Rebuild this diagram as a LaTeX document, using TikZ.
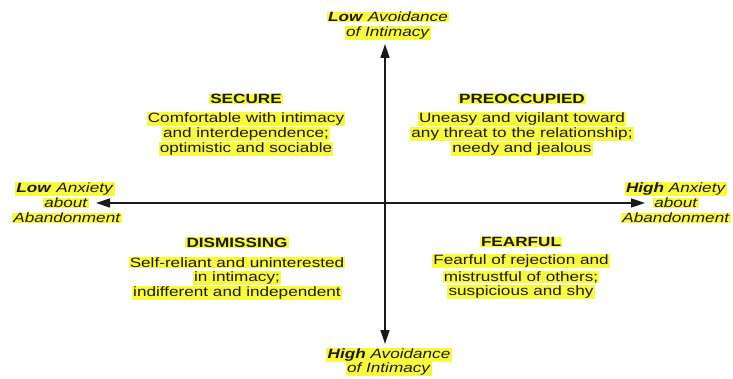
\documentclass[tikz,border=0pt]{standalone}
\usepackage{fontspec}
\setmainfont[FakeStretch=1.27]{Liberation Sans}
\usetikzlibrary{arrows.meta}
\definecolor{hlyellow}{HTML}{FAFA3C}
\definecolor{ink}{HTML}{1A1A1A}
\tikzset{
  hl/.style={fill=hlyellow, inner xsep=1.2pt, inner ysep=0.4pt, text=ink, font=\fontsize{13.5}{15}\selectfont, anchor=center},
  ttl/.style={hl, font=\fontsize{13.5}{15}\selectfont\bfseries},
  axis/.style={line width=1.4pt, draw=ink, -{Triangle[length=14pt,width=9pt]}}
}
\begin{document}
\begin{tikzpicture}[x=1pt,y=-1pt]
\useasboundingbox (0,0) rectangle (733,379);
% axis labels
\node[hl] (t1) at (388,17) {\textbf{\textit{Low}} \textit{Avoidance}};
\node[hl] (t2) at (388,33) {\textit{of Intimacy}};
\node[hl] (b1) at (389,355) {\textbf{\textit{High}} \textit{Avoidance}};
\node[hl] (b2) at (389,369) {\textit{of Intimacy}};
\node[hl] (l1) at (65,189) {\textbf{\textit{Low}} \textit{Anxiety}};
\node[hl] (l2) at (66,203) {\textit{about}};
\node[hl] (l3) at (67,218) {\textit{Abandonment}};
\node[hl] (r1) at (676,189) {\textbf{\textit{High}} \textit{Anxiety}};
\node[hl] (r2) at (676,203) {\textit{about}};
\node[hl] (r3) at (676,218) {\textit{Abandonment}};
% axes
\coordinate (c) at (385,203);
\coordinate (top) at (385,44);
\coordinate (bot) at (385,344);
\coordinate (lft) at (96,203);
\coordinate (rgt) at (645,203);
\draw[axis] (c) -- (top);
\draw[axis] (c) -- (bot);
\draw[axis] (c) -- (lft);
\draw[axis] (c) -- (rgt);
% secure
\node[ttl] (s0) at (246,99) {SECURE};
\node[hl] (s1) at (246,119) {Comfortable with intimacy};
\node[hl] (s2) at (246,134) {and interdependence;};
\node[hl] (s3) at (246,149) {optimistic and sociable};
% preoccupied
\node[ttl] (p0) at (522,99) {PREOCCUPIED};
\node[hl] (p1) at (522,119) {Uneasy and vigilant toward};
\node[hl] (p2) at (522,134) {any threat to the relationship;};
\node[hl] (p3) at (522,149) {needy and jealous};
% dismissing
\node[ttl] (d0) at (237,242.5) {DISMISSING};
\node[hl] (d1) at (237,262.5) {Self-reliant and uninterested};
\node[hl] (d2) at (237,278) {in intimacy;};
\node[hl] (d3) at (237,293) {indifferent and independent};
% fearful
\node[ttl] (f0) at (521,242) {FEARFUL};
\node[hl] (f1) at (521,261) {Fearful of rejection and};
\node[hl] (f2) at (521,277) {mistrustful of others;};
\node[hl] (f3) at (521,292) {suspicious and shy};
\end{tikzpicture}
\end{document}
